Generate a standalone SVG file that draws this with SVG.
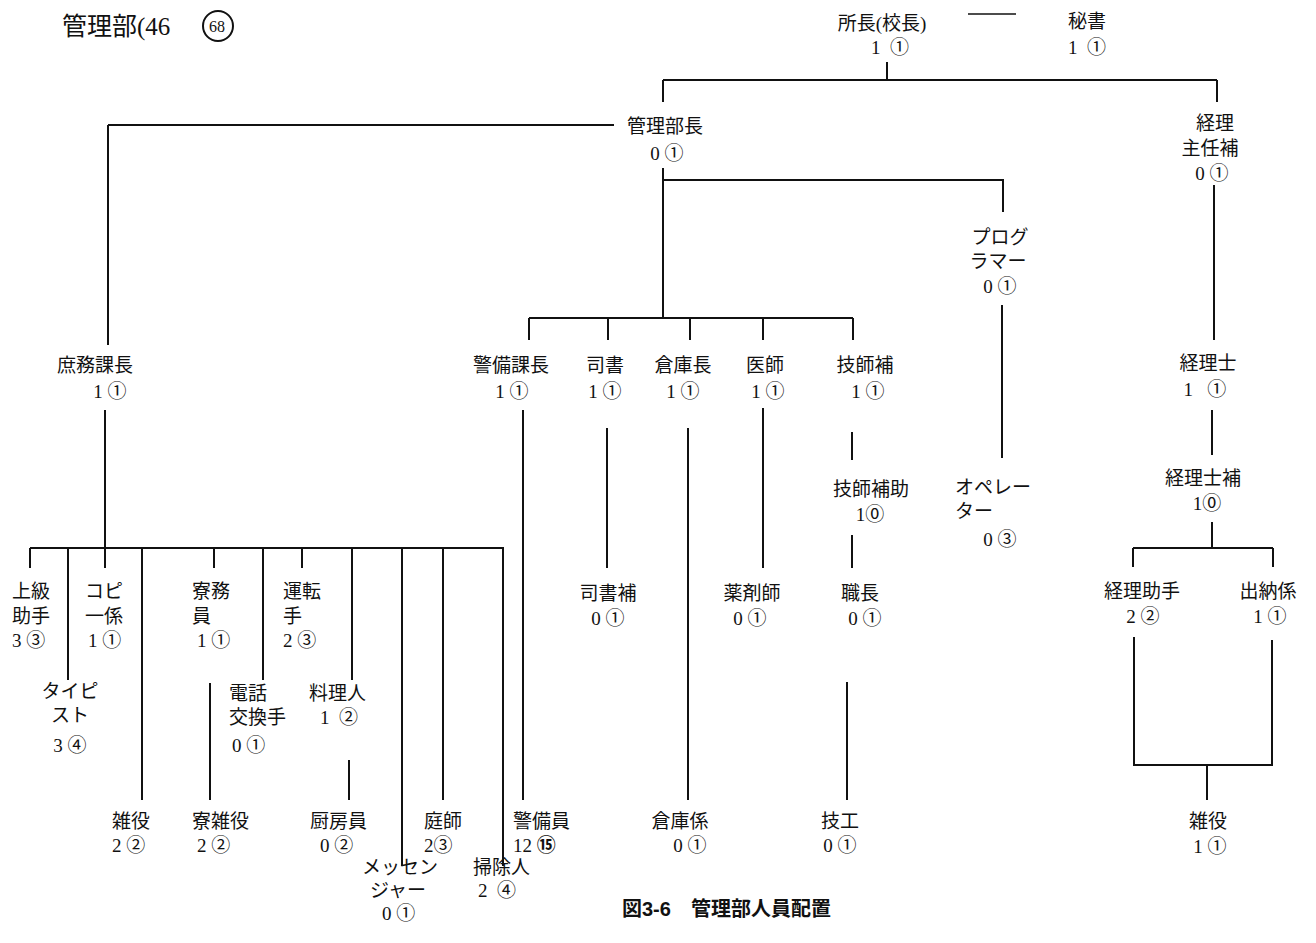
<svg xmlns="http://www.w3.org/2000/svg" width="1316" height="943" viewBox="0 0 1316 943">
<style>
text{font-family:"Liberation Serif","Noto Sans CJK JP",serif;font-size:19px;fill:#111;white-space:pre}
.m{text-anchor:middle}
.cap{font-family:"Liberation Sans","Noto Sans CJK JP",sans-serif;font-weight:bold;font-size:20px}
.ln{stroke:#111;stroke-width:2;fill:none}
</style>
<rect width="1316" height="943" fill="#fff"/>
<g id="connectors" class="ln">
<path d="M968 14H1016" stroke-width="1.5"/>
<path d="M887 62V80M663 80H1217M663 80V102M1217 80V102"/>
<path d="M108 125H614M108 125V345"/>
<path d="M663 168V318M663 180H1003V212"/>
<path d="M529 318H853M529 318V340M608 318V340M690 318V340M763 318V340M853 318V340"/>
<path d="M1002 305V458"/>
<path d="M1214 185V340M1212 410V455M1212 522V548M1133 548H1273M1133 548V567M1273 548V567"/>
<path d="M1134 637V765H1272V640M1207 765V800"/>
<path d="M105 410V548M30 548H504"/>
<path d="M30 548V568M68 548V680M105 548V568M142 548V800M214 548V568M263 548V680M302 548V568M352 548V680M402 548V866M443 548V800M503 548V866"/>
<path d="M210 683V800M349 760V800M523 410V800"/>
<path d="M607 428V568M688 428V800M763 408V568M852 432V460M852 535V568M847 682V800"/>
</g>
<g id="header"><text x="62" y="35" style="font-size:25px">管理部(46</text><circle cx="218" cy="26" r="15" fill="none" stroke="#111" stroke-width="2"/><text x="217" y="32" class="m" style="font-size:16px">68</text></g>
<g id="n-shocho"><text x="882" y="30" class="m">所長(校長)</text><text x="890" y="54" class="m">1  ①</text></g>
<g id="n-hisho"><text x="1087" y="28" class="m">秘書</text><text x="1087" y="54" class="m">1  ①</text></g>
<g id="n-kanribucho"><text x="665" y="133" class="m">管理部長</text><text x="667" y="160" class="m">0 ①</text></g>
<g id="n-keiri-shunin"><text x="1215" y="130" class="m">経理</text><text x="1210" y="155" class="m">主任補</text><text x="1212" y="180" class="m">0 ①</text></g>
<g id="n-programmer"><text x="1000" y="244" class="m">プログ</text><text x="998" y="268" class="m">ラマー</text><text x="1000" y="293" class="m">0 ①</text></g>
<g id="n-operator"><text x="955" y="494">オペレー</text><text x="955" y="518">ター</text><text x="1000" y="546" class="m">0 ③</text></g>
<g id="n-shomu"><text x="95" y="372" class="m">庶務課長</text><text x="110" y="398" class="m">1 ①</text></g>
<g id="n-keibikacho"><text x="511" y="372" class="m">警備課長</text><text x="512" y="398" class="m">1 ①</text></g>
<g id="n-shisho"><text x="605" y="372" class="m">司書</text><text x="605" y="398" class="m">1 ①</text></g>
<g id="n-sokocho"><text x="683" y="372" class="m">倉庫長</text><text x="683" y="398" class="m">1 ①</text></g>
<g id="n-ishi"><text x="765" y="372" class="m">医師</text><text x="768" y="398" class="m">1 ①</text></g>
<g id="n-gishiho"><text x="865" y="372" class="m">技師補</text><text x="868" y="398" class="m">1 ①</text></g>
<g id="n-gishihojo"><text x="871" y="496" class="m">技師補助</text><text x="870" y="521" class="m">1⓪</text></g>
<g id="n-keirishi"><text x="1208" y="370" class="m">経理士</text><text x="1205" y="396" class="m">1   ①</text></g>
<g id="n-keirishiho"><text x="1203" y="485" class="m">経理士補</text><text x="1207" y="510" class="m">1⓪</text></g>
<g id="n-keirijoshu"><text x="1142" y="598" class="m">経理助手</text><text x="1143" y="623" class="m">2 ②</text></g>
<g id="n-suito"><text x="1268" y="598" class="m">出納係</text><text x="1270" y="623" class="m">1 ①</text></g>
<g id="n-zatsueki-r"><text x="1208" y="828" class="m">雑役</text><text x="1210" y="853" class="m">1 ①</text></g>
<g id="n-jokyu"><text x="12" y="598">上級</text><text x="12" y="623">助手</text><text x="12" y="647">3 ③</text></g>
<g id="n-copy"><text x="85" y="598">コピ</text><text x="85" y="623">一係</text><text x="88" y="647">1 ①</text></g>
<g id="n-typist"><text x="70" y="698" class="m">タイピ</text><text x="70" y="722" class="m">スト</text><text x="70" y="752" class="m">3 ④</text></g>
<g id="n-ryomu"><text x="192" y="598">寮務</text><text x="192" y="623">員</text><text x="197" y="647">1 ①</text></g>
<g id="n-unten"><text x="283" y="598">運転</text><text x="283" y="623">手</text><text x="283" y="647">2 ③</text></g>
<g id="n-denwa"><text x="229" y="700">電話</text><text x="229" y="724">交換手</text><text x="232" y="752">0 ①</text></g>
<g id="n-ryori"><text x="309" y="700">料理人</text><text x="320" y="724">1  ②</text></g>
<g id="n-zatsueki"><text x="112" y="828">雑役</text><text x="112" y="852">2 ②</text></g>
<g id="n-ryozatsu"><text x="192" y="828">寮雑役</text><text x="197" y="852">2 ②</text></g>
<g id="n-chubo"><text x="310" y="828">厨房員</text><text x="320" y="852">0 ②</text></g>
<g id="n-teishi"><text x="424" y="828">庭師</text><text x="424" y="852">2③</text></g>
<g id="n-keibiin"><text x="513" y="828">警備員</text><text x="513" y="852">12 <tspan font-weight="bold">⑮</tspan></text></g>
<g id="n-messenger"><text x="362" y="874">メッセン</text><text x="370" y="897">ジャー</text><text x="382" y="920">0 ①</text></g>
<g id="n-soji"><text x="473" y="874">掃除人</text><text x="478" y="897">2  ④</text></g>
<g id="n-shishoho"><text x="608" y="600" class="m">司書補</text><text x="608" y="625" class="m">0 ①</text></g>
<g id="n-yakuzai"><text x="752" y="600" class="m">薬剤師</text><text x="750" y="625" class="m">0 ①</text></g>
<g id="n-shokucho"><text x="860" y="600" class="m">職長</text><text x="865" y="625" class="m">0 ①</text></g>
<g id="n-sokogakari"><text x="680" y="828" class="m">倉庫係</text><text x="690" y="852" class="m">0 ①</text></g>
<g id="n-giko"><text x="840" y="828" class="m">技工</text><text x="840" y="852" class="m">0 ①</text></g>
<g id="caption"><text x="622" y="916" class="cap">図3-6　管理部人員配置</text></g>
</svg>
